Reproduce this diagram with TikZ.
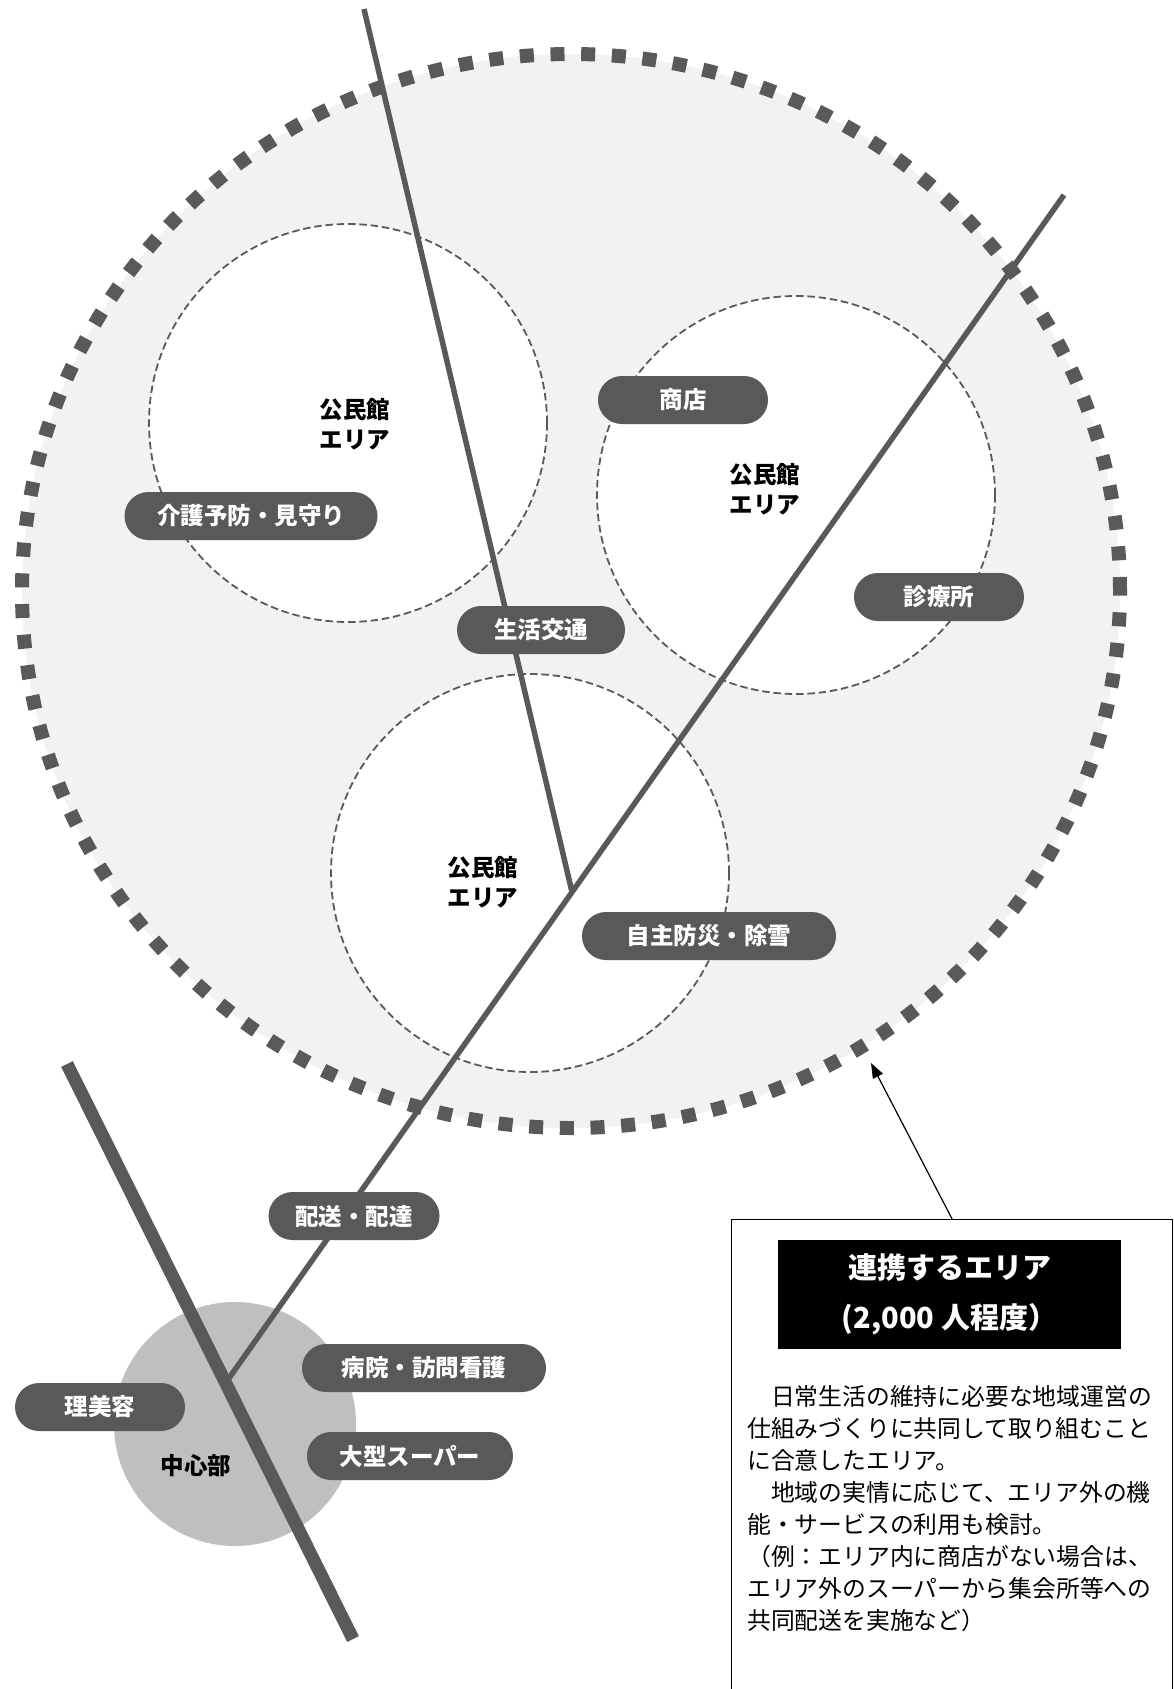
\documentclass[tikz,border=0pt]{standalone}
\usepackage{fontspec}
\setmainfont{Noto Sans CJK JP}
\usetikzlibrary{arrows.meta,shapes.geometric}
\definecolor{dgray}{HTML}{595959}
\definecolor{lgray}{HTML}{F2F2F2}
\definecolor{mgray}{HTML}{BFBFBF}
\begin{document}
\begin{tikzpicture}[x=1pt,y=-1pt,
  pill/.style={fill=dgray, text=white, rounded corners=24pt, minimum height=48pt, inner sep=0pt, font=\bfseries\fontsize{23.5}{23.5}\selectfont},
  area/.style={circle, draw=dgray, line width=1.8pt, dash pattern=on 7.5pt off 3.8pt, fill=white, minimum size=398pt, inner sep=0pt},
  lbl/.style={align=center, inner sep=0pt, font=\bfseries\fontsize{23.5}{30.5}\selectfont, text=black},
  road/.style={draw=dgray, line width=5.5pt},
  mainroad/.style={draw=dgray, line width=13pt},
  body/.style={inner sep=0pt, font=\fontsize{23.8}{32}\selectfont, text=black}
]
\useasboundingbox (0,0) rectangle (1174,1689);
% large cooperating area
\node[ellipse, fill=lgray, draw=dgray, line width=14pt, dash pattern=on 14pt off 16.7pt,
      minimum width=1098pt, minimum height=1074pt, inner sep=0pt] (big) at (571,591) {};
% community hall areas
\node[area] (c1) at (348,423) {};
\node[area] (c2) at (796,495) {};
\node[area] (c3) at (530,873) {};
% centre area
\node[ellipse, fill=mgray, minimum width=242pt, minimum height=244pt, inner sep=0pt] (core) at (235,1424) {};
% roads
\coordinate (r1a) at (364,9);
\coordinate (jn) at (572,892);
\coordinate (d1) at (1064,195);
\coordinate (d2) at (227,1381);
\coordinate (m1) at (67,1064);
\coordinate (m2) at (353,1639);
\draw[road] (r1a) -- (jn);
\draw[road] (d1) -- (d2);
\draw[mainroad] (m1) -- (m2);
% labels
\node[lbl] (k1) at (355,424) {公民館\\エリア};
\node[lbl] (k2) at (765,489) {公民館\\エリア};
\node[lbl] (k3) at (483,882) {公民館\\エリア};
\node[lbl] (kc) at (196,1466) {中心部};
% pills
\node[pill, minimum width=253pt] (p1) at (251,516) {介護予防・見守り};
\node[pill, minimum width=170pt] (p2) at (683,400) {商店};
\node[pill, minimum width=170pt] (p3) at (939,597) {診療所};
\node[pill, minimum width=168pt] (p4) at (541,630) {生活交通};
\node[pill, minimum width=254pt] (p5) at (709,936) {自主防災・除雪};
\node[pill, minimum width=171pt] (p6) at (354,1216) {配送・配達};
\node[pill, minimum width=244pt] (p7) at (424,1368) {病院・訪問看護};
\node[pill, minimum width=170pt] (p8) at (100,1407) {理美容};
\node[pill, minimum width=206pt] (p9) at (410,1456) {大型スーパー};
% info box
\node[draw=black, line width=1.2pt, minimum width=441pt, minimum height=520pt, anchor=north west, inner sep=0pt] (info) at (731,1219) {};
\node[fill=black, text=white, minimum width=343pt, minimum height=109pt, align=center, inner sep=0pt,
      font=\bfseries\fontsize{29}{50}\selectfont] (title) at (949.5,1294) {連携するエリア\\(2,000 人程度）};
\foreach \t [count=\i] in {{　日常生活の維持に必要な地域運営の},{仕組みづくりに共同して取り組むこと},{に合意したエリア。},{　地域の実情に応じて、エリア外の機},{能・サービスの利用も検討。},{（例：エリア内に商店がない場合は、},{エリア外のスーパーから集会所等への},{共同配送を実施など）}}
  \node[body, anchor=base west] (b\i) at (747,{1405+32*(\i-1)}) {\t};
\coordinate (tip) at (871,1063);
\draw[line width=1.2pt, -{Triangle[length=15pt,width=11pt]}] (info.north) -- (tip);
\end{tikzpicture}
\end{document}
